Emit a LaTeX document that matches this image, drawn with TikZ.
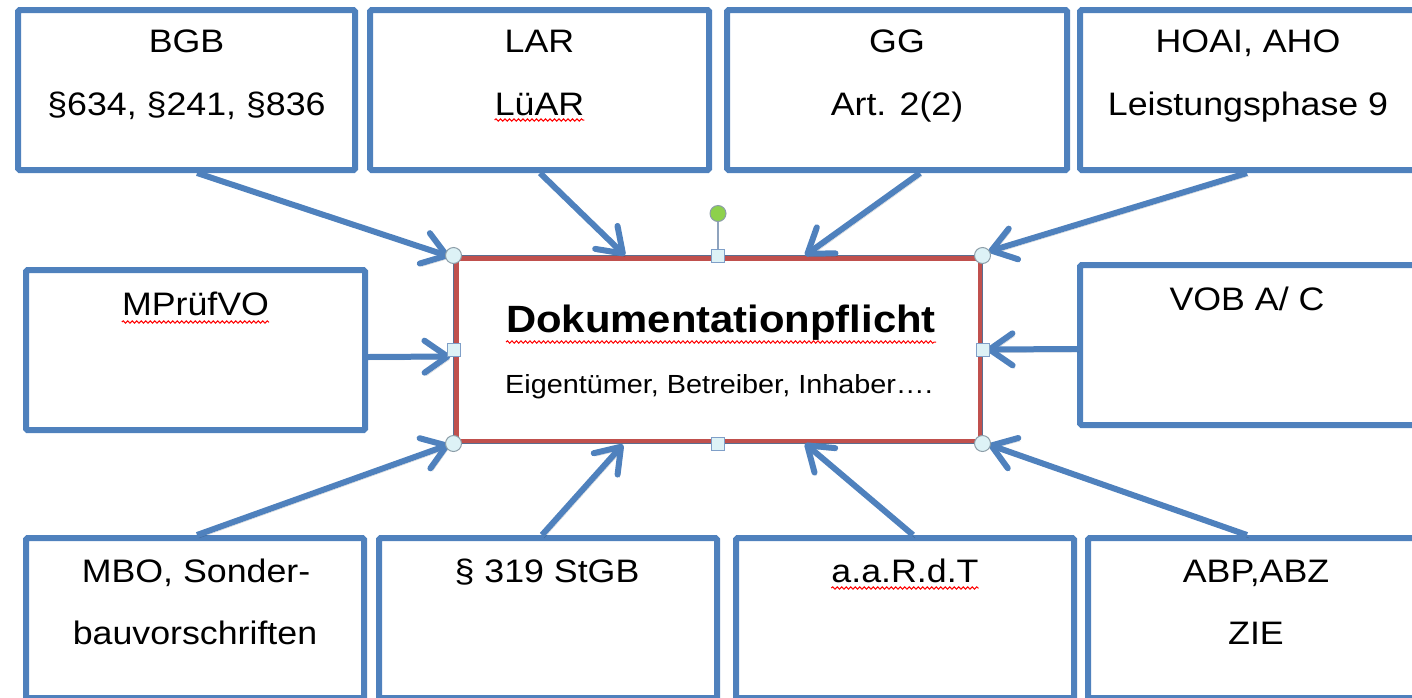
\documentclass[tikz,border=0pt]{standalone}
\usepackage{fontspec}
\setmainfont{Liberation Sans}[FakeStretch=1.1]
\usetikzlibrary{arrows.meta,calc,decorations.pathmorphing}
\definecolor{ofblue}{HTML}{4F81BD}
\definecolor{docred}{HTML}{C0504D}
\definecolor{docline}{HTML}{5A6E90}
\definecolor{hfill}{HTML}{DDF2F6}
\definecolor{hgray}{HTML}{8C9DA8}
\definecolor{hsqdraw}{HTML}{7F9FC8}
\definecolor{hgreen}{HTML}{8DD14C}
\definecolor{hline}{HTML}{8FA3BD}
\begin{document}
\begin{tikzpicture}[x=1pt,y=-1pt,
  src/.style={draw=ofblue, line width=6pt, inner sep=0pt, rounded corners=1.5pt, minimum height=160pt},
  lbl/.style={inner sep=0pt, anchor=base, font=\fontsize{32.5}{36}\selectfont},
  link/.style={draw=ofblue, line width=6pt, -{Straight Barb[length=23pt,width=32pt,round]},
    preaction={draw=black, opacity=.18, transform canvas={shift={(2pt,-3pt)}}}},
  hcirc/.style={circle, draw=hgray, fill=hfill, line width=1pt, minimum size=16pt, inner sep=0pt},
  hsq/.style={rectangle, draw=hsqdraw, fill=hfill, line width=1pt, minimum size=13pt, inner sep=0pt},
  hrotate/.style={circle, draw=hgray, fill=hgreen, line width=1pt, minimum size=16pt, inner sep=0pt},
  squig/.style={draw=red, line width=1pt, decorate,
    decoration={snake, segment length=4.5pt, amplitude=1.2pt}}
]
\useasboundingbox (0,0) rectangle (1412,697);
\clip (0,0) rectangle (1412,697);

% source boxes
\node[src, minimum width=337pt] (bgb)  at (186.5,90) {};
\node[src, minimum width=339pt] (lar)  at (539.5,90) {};
\node[src, minimum width=340pt] (gg)   at (897,90) {};
\node[src, minimum width=340pt] (hoai) at (1250,90) {};
\node[src, minimum width=339pt] (mpr)  at (195.5,350) {};
\node[src, minimum width=340pt] (vob)  at (1250,345) {};
\node[src, minimum width=338pt] (mbo)  at (195,618) {};
\node[src, minimum width=338pt] (stgb) at (548,618) {};
\node[src, minimum width=338pt] (aar)  at (905,618) {};
\node[src, minimum width=340pt] (abp)  at (1258,618) {};

% box texts
\node[lbl] (bgbA)  at ($(bgb.north)+(0,45)$)   {BGB};
\node[lbl] (bgbB)  at ($(bgb.north)+(0,108)$)  {§634, §241, §836};
\node[lbl] (larA)  at ($(lar.north)+(0,45)$)   {LAR};
\node[lbl] (larB)  at ($(lar.north)+(0,108)$)  {LüAR};
\node[lbl] (ggA)   at ($(gg.north)+(0,45)$)    {GG};
\node[lbl] (ggB)   at ($(gg.north)+(0,108)$)   {Art. 2(2)};
\node[lbl] (hoaiA) at ($(hoai.north)+(-2,45)$) {HOAI, AHO};
\node[lbl] (hoaiB) at ($(hoai.north)+(-2,108)$){Leistungsphase 9};
\node[lbl] (mprA)  at ($(mpr.north)+(0,48)$)   {MPrüfVO};
\node[lbl] (vobA)  at ($(vob.north)+(-3,48)$)  {VOB A/ C};
\node[lbl] (mboA)  at ($(mbo.north)+(1,47)$)   {MBO, Sonder-};
\node[lbl] (mboB)  at ($(mbo.north)+(0,109)$)  {bauvorschriften};
\node[lbl] (stgbA) at ($(stgb.north)+(-1,47)$) {§ 319 StGB};
\node[lbl] (aarA)  at ($(aar.north)+(0,47)$)   {a.a.R.d.T};
\node[lbl] (abpA)  at ($(abp.north)+(-2,47)$)  {ABP,ABZ};
\node[lbl] (abpB)  at ($(abp.north)+(-2,109)$) {ZIE};

% central box
\node[draw=docred, line width=5pt, minimum width=524pt, minimum height=183pt, inner sep=0pt] (doc) at (718,349.5) {};
\draw[docline, line width=1.2pt] (doc.north west) rectangle (doc.south east);
\node[inner sep=0pt, anchor=base, font=\bfseries\fontsize{38}{40}\selectfont] (docT)
  at ($(doc.center)+(3,-17.5)$) {Dokumentationpflicht};
\node[inner sep=0pt, anchor=base, font=\fontsize{26.2}{30}\selectfont] (docS)
  at ($(doc.center)+(1,43.5)$) {Eigentümer, Betreiber, Inhaber….};

% spell-check underlines
\draw[squig] ($(larB.base west)+(0,5)$) -- ($(larB.base east)+(0,5)$);
\draw[squig] ($(mprA.base west)+(0,7)$) -- ($(mprA.base east)+(0,7)$);
\draw[squig] ($(docT.base west)+(0,10)$) -- ($(docT.base east)+(0,10)$);
\draw[squig] ($(aarA.base west)+(0,6)$) -- ($(aarA.base east)+(0,6)$);

% connectors
\draw[link] ($(bgb.south)+(10.5,0)$)  -- ($(doc.north west)+(-4,1)$);
\draw[link] ($(lar.south)+(0.5,0)$)   -- ($(doc.north)+(-93,0)$);
\draw[link] ($(gg.south)+(23,0)$)     -- ($(doc.north)+(87,0)$);
\draw[link] ($(hoai.south)+(-3,0)$)   -- ($(doc.north east)+(6,-4)$);
\draw[link] ($(mpr.east)+(0,7)$)      -- ($(doc.west)+(-3,7)$);
\draw[link] ($(vob.west)+(0,4)$)      -- ($(doc.east)+(4,0)$);
\draw[link] ($(mbo.north)+(2,0)$)     -- ($(doc.south west)+(-4,1)$);
\draw[link] ($(stgb.north)+(-6,0)$)   -- ($(doc.south)+(-95,1)$);
\draw[link] ($(aar.north)+(8,0)$)     -- ($(doc.south)+(87,0)$);
\draw[link] ($(abp.north)+(-11,0)$)   -- ($(doc.south east)+(6,1)$);

% selection handles
\node[hrotate] (hrot) at ($(doc.north)+(0,-42)$) {};
\draw[hline, line width=1.5pt] (hrot) -- (doc.north);
\node[hsq] (hn) at (doc.north) {};
\node[hsq] (hs) at (doc.south) {};
\node[hsq] (hw) at (doc.west) {};
\node[hsq] (he) at (doc.east) {};
\node[hcirc] (hnw) at (doc.north west) {};
\node[hcirc] (hne) at (doc.north east) {};
\node[hcirc] (hsw) at (doc.south west) {};
\node[hcirc] (hse) at (doc.south east) {};
\end{tikzpicture}
\end{document}
